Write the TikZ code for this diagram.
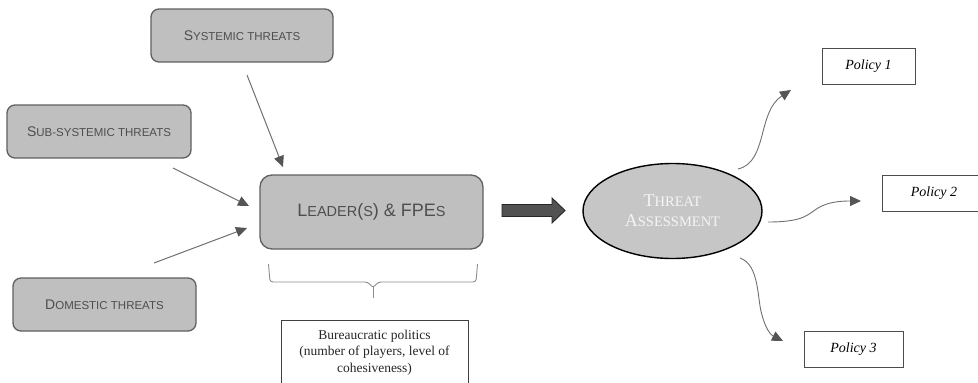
\documentclass[tikz,border=0pt]{standalone}
\usepackage{fontspec}
\setmainfont{Liberation Serif}
\setsansfont{Liberation Sans}
\usetikzlibrary{arrows.meta,shapes.geometric}
\definecolor{boxfill}{HTML}{BFBFBF}
\definecolor{boxline}{HTML}{606060}
\definecolor{boxtext}{HTML}{4E4E4E}
\definecolor{arrowgray}{HTML}{707070}
\definecolor{tipgray}{HTML}{555555}
\definecolor{ellfill}{HTML}{C6C6C6}
\newcommand{\fsz}[1]{\fontsize{#1}{#1}\selectfont}
\newcommand{\fszb}[1]{\fontsize{#1}{20}\selectfont}
\tikzset{
  threatbox/.style={draw=boxline, fill=boxfill, line width=1.3pt, rounded corners=8pt,
    font=\sffamily, text=boxtext, inner sep=0pt},
  policybox/.style={draw=black!70, line width=0.9pt, fill=white, inner sep=0pt,
    minimum height=36pt, font=\fsz{14}\itshape},
  feed/.style={draw=arrowgray, line width=1pt, -{Triangle[length=11pt,width=10pt,fill=tipgray,color=tipgray]}},
  outflow/.style={draw=arrowgray, line width=0.9pt, -{Triangle[length=11pt,width=10pt,fill=tipgray,color=tipgray]}},
}
\begin{document}
\begin{tikzpicture}[x=1pt,y=-1pt]
\useasboundingbox (0,0) rectangle (978,383);
\clip (0,0) rectangle (978,383);

% threat boxes
\node[threatbox, minimum width=182pt, minimum height=53pt] (sys) at (242,35.5)
  {\fsz{14}S\fsz{11.5}YSTEMIC THREATS};
\node[threatbox, minimum width=184pt, minimum height=53pt] (sub) at (99,131.5)
  {\fsz{14}S\fsz{11.5}UB-SYSTEMIC THREATS};
\node[threatbox, minimum width=183pt, minimum height=53pt] (dom) at (104.5,304.5)
  {\fsz{14}D\fsz{11.5}OMESTIC THREATS};
\node[threatbox, rounded corners=12pt, minimum width=223pt, minimum height=74pt] (lead) at (371.5,212)
  {\fsz{18}L\fsz{14.5}EADER\fsz{18}(\fsz{14.5}S\fsz{18}) \& FPE\fsz{14.5}S};

% ellipse
\node[ellipse, draw=black, line width=1.4pt, fill=ellfill, minimum width=179pt, minimum height=95pt,
  inner sep=0pt, align=center, font=\fszb{13}, text=white!96!black] (ta) at (672.5,211)
  {\fszb{18}T\fszb{14.5}HREAT\\\fszb{18}A\fszb{14.5}SSESSMENT};

% policies
\node[policybox, minimum width=93pt] (p1) at (868.5,66) {Policy 1};
\node[policybox, minimum width=104pt] (p2) at (934,193.5) {Policy 2};
\node[policybox, minimum width=99pt] (p3) at (853.5,349) {Policy 3};

% bureaucratic politics box
\draw[black!75, line width=0.9pt] (281,395) -- (281,320) -- (468,320) -- (468,395);
\node[align=center, font=\fontsize{13.5}{16.5}\selectfont, inner sep=0pt, text=black!85] (bp) at (374.5,352.5)
  {Bureaucratic politics\\(number of players, level of\\cohesiveness)};

% brace
\coordinate (brL) at (268.5,264);
\coordinate (brR) at (477.5,264);
\coordinate (brM) at (373,298);
\draw[black!45, line width=0.9pt, rounded corners=3pt]
  (brL) -- (270,282) -- (368,282) -- (373,288) -- (378,282) -- (476,282) -- (brR);
\draw[black!45, line width=0.9pt] (373,286) -- (brM);

% feeding arrows
\coordinate (sysS) at (247,75);
\coordinate (sysE) at (283,167);
\coordinate (subS) at (173,168);
\coordinate (subE) at (249,206);
\coordinate (domS) at (154,263);
\coordinate (domE) at (247,228);
\draw[feed] (sysS) -- (sysE);
\draw[feed] (subS) -- (subE);
\draw[feed] (domS) -- (domE);

% big block arrow from leader to threat assessment
\draw[draw=black!85, fill=black!68, line width=0.9pt]
  (502,204.5) -- (552,204.5) -- (552,198) -- (565,210.5) -- (552,223) -- (552,216.5) -- (502,216.5) -- cycle;

% outflow arrows
\coordinate (o1S) at (738,169);
\coordinate (o1E) at (791,90);
\coordinate (o2S) at (768,222);
\coordinate (o2E) at (861,201);
\coordinate (o3S) at (740,258);
\coordinate (o3E) at (783,341);
\draw[outflow] (o1S) .. controls (768,162) and (757,112) .. (o1E);
\draw[outflow] (o2S) .. controls (805,222) and (808,214) .. (818,208) .. controls (828,202) and (840,201) .. (o2E);
\draw[outflow] (o3S) .. controls (760,265) and (757,300) .. (762,315) .. controls (766,330) and (771,335) .. (o3E);
\end{tikzpicture}
\end{document}
